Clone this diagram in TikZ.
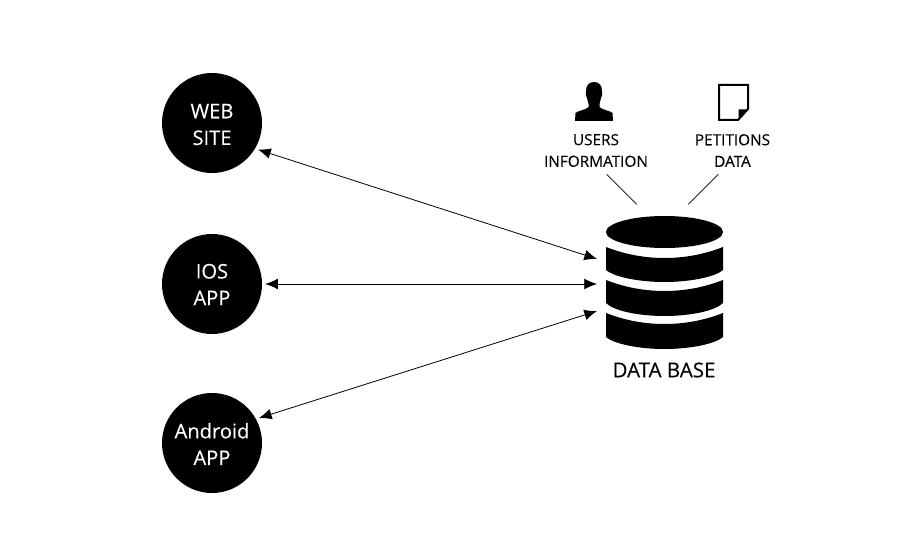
\documentclass[tikz,border=0pt]{standalone}
\usepackage{fontspec}
\setmainfont{Open Sans}[FakeBold=0.15]
\usetikzlibrary{arrows.meta}
\tikzset{
  client/.style={circle,fill=black,minimum size=75pt,inner sep=0pt,outer sep=2.4pt},
  clientlabel/.style={text=white,align=center,inner sep=0pt,font=\fontsize{15.1}{20}\selectfont},
  dbzone/.style={rectangle,inner sep=0pt,minimum width=87.75pt,minimum height=99.75pt,outer xsep=6.75pt,outer ysep=0pt},
  link/.style={draw=black,line width=0.6pt,{Latex[length=9.5pt,width=8pt]}-{Latex[length=9.5pt,width=8pt]}},
  leader/.style={draw=black,line width=0.6pt},
  infolabel/.style={align=center,inner sep=0pt,font=\fontsize{11.5}{16.2}\selectfont},
  dblabel/.style={inner sep=0pt,font=\fontsize{15.4}{18}\selectfont}
}
\begin{document}
\begin{tikzpicture}[x=0.75pt,y=-0.75pt]
\useasboundingbox (0,0) rectangle (900,560);
\node[client] (web) at (212,123) {};
\node[client] (ios) at (212,284) {};
\node[client] (android) at (212,443) {};
\node[clientlabel] (webl) at (212,124.5) {WEB\\SITE};
\node[clientlabel] (iosl) at (212,284.5) {IOS\\APP};
\node[clientlabel] (androidl) at (212,444) {Android\\APP};
% database
\node[dbzone] (db) at (664.5,282.5) {};
\fill[black] (664.5,232) ellipse [x radius=58.5,y radius=16];
\fill[black] (606,247) .. controls (625,254.5) and (645,258) .. (664.5,258) .. controls (684,258) and (704,254.5) .. (723,247)
  -- (723,270) .. controls (715,277) and (690,282) .. (664.5,282) .. controls (639,282) and (614,277) .. (606,270) -- cycle;
\fill[black] (606,280) .. controls (625,287.5) and (645,291) .. (664.5,291) .. controls (684,291) and (704,287.5) .. (723,280)
  -- (723,303) .. controls (715,311) and (690,316) .. (664.5,316) .. controls (639,316) and (614,311) .. (606,303) -- cycle;
\fill[black] (606,313) .. controls (625,320.5) and (645,324) .. (664.5,324) .. controls (684,324) and (704,320.5) .. (723,313)
  -- (723,337) .. controls (715,344) and (690,349) .. (664.5,349) .. controls (639,349) and (614,344) .. (606,337) -- cycle;
\draw[link] (web.-30.4) -- ([yshift=17.625pt]db.west);
\draw[link] (ios.east) -- ([yshift=-1.125pt]db.west);
\draw[link] (android.28.5) -- ([yshift=-21.375pt]db.west);
\node[dblabel] (dbl) at (664,370) {DATA BASE};
\node[infolabel] (users) at (596,150.5) {USERS\\INFORMATION};
\node[infolabel] (pet) at (732.5,150.5) {PETITIONS\\DATA};
\coordinate (u1) at (606.7,174.3);
\coordinate (u2) at (636.7,204.3);
\coordinate (p1) at (718.3,174.3);
\coordinate (p2) at (688.3,204.3);
\draw[leader] (u1) -- (u2);
\draw[leader] (p1) -- (p2);
% person icon
\fill[black] (594,82) .. controls (588.5,82) and (586,86) .. (586,91)
  .. controls (585.5,94) and (586,97) .. (587,98) .. controls (587.5,100.5) and (588,102) .. (588.5,104)
  -- (588.5,107) .. controls (586,110) and (578,110.5) .. (575.5,113) -- (575,121) -- (613,121) -- (612.5,113)
  .. controls (610,110.5) and (602,110) .. (599.5,107) -- (599.5,104)
  .. controls (600,102) and (600.5,100.5) .. (601,98) .. controls (602,97) and (602.5,94) .. (602,91)
  .. controls (602,86) and (599.5,82) .. (594,82) -- cycle;
% document icon
\draw[black,line width=1.5pt,line join=miter] (719,85) -- (748,85) -- (748,109) -- (738,120) -- (719,120) -- cycle;
\fill[black] (738.5,109.5) -- (748,109.5) -- (738.5,120) -- cycle;
\end{tikzpicture}
\end{document}
